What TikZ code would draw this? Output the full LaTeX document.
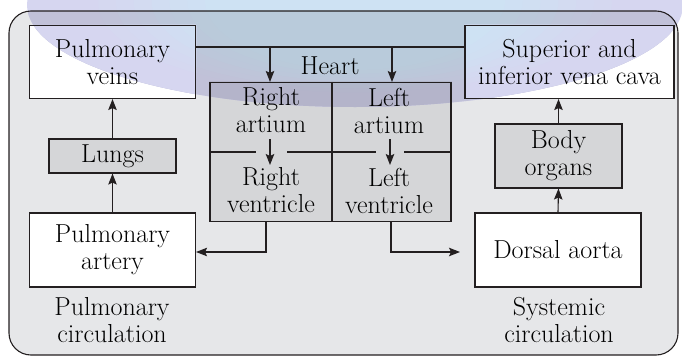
\documentclass[tikz,border=0pt]{standalone}
\usetikzlibrary{arrows.meta}
\definecolor{bg}{RGB}{230,231,233}
\definecolor{boxgray}{RGB}{213,214,216}
\definecolor{ink}{RGB}{35,31,32}
\definecolor{ellin}{RGB}{206,226,243}
\definecolor{ellout}{RGB}{214,214,240}
\pgfdeclarelayer{back}
\pgfsetlayers{back,main}
\newcommand\drawveil[1]{%
  \foreach \t/\p in {0/100,0.3/100,0.4/86,0.5/71,0.6/57,0.7/43,0.8/29,0.9/14,1/0}{%
    \fill[fill=ellout!\p!ellin!#1!black] (355,{5-5*\t}) ellipse [x radius={328-178*\t}, y radius={102-32*\t}];
  }}
\begin{document}
\begin{tikzpicture}[x=1pt,y=-1pt,
  line width=1.1pt,
  font=\fontsize{26}{27}\selectfont,
  wbox/.style={draw=ink, text=black, align=center, inner sep=0pt},
  lbl/.style={text=black, align=center, inner sep=0pt},
  arr/.style={draw=ink, -{Stealth[length=11pt,width=8.5pt,inset=2pt]}}]
\useasboundingbox (0,0) rectangle (682,359);
% outer panel
\draw[draw=ink, rounded corners=22pt] (9,11) rectangle (678,355);
% boxes
\node[wbox, minimum width=166pt, minimum height=73pt] (veins) at (112.5,62) {Pulmonary\\veins};
\node[wbox, minimum width=209pt, minimum height=73pt] (cava) at (569.5,62) {Superior and\\inferior vena cava};
\node[wbox, minimum width=127pt, minimum height=34pt] (lungs) at (112.5,156) {Lungs};
\node[wbox, minimum width=127pt, minimum height=64pt] (organs) at (558.5,156) {Body\\organs};
\node[wbox, minimum width=166pt, minimum height=74pt] (artery) at (112.5,250) {Pulmonary\\artery};
\node[wbox, minimum width=166pt, minimum height=74pt] (aorta) at (558,250) {Dorsal aorta};
% heart
\node[wbox, minimum width=241pt, minimum height=139pt] (heart) at (330.5,152) {};
\node[lbl] (heartlbl) at (330,65.5) {Heart};
\node[lbl] (ra) at (271,110.5) {Right\\artium};
\node[lbl] (la) at (389,110.5) {Left\\artium};
\node[lbl] (rv) at (271,190.5) {Right\\ventricle};
\node[lbl] (lv) at (389,190.5) {Left\\ventricle};
\coordinate (mid) at (332,152);
\coordinate (ax1) at (270,0);
\coordinate (ax2) at (390,0);
\coordinate (topline) at (0,47);
\coordinate (botline) at (0,252);
\draw[ink] (mid |- heart.north) -- (mid |- heart.south);
\draw[ink] (heart.west |- mid) -- (256,152) (287,152) -- (376,152) (404,152) -- (heart.east |- mid);
\draw[arr] (ax1 |- 0,139) -- (ax1 |- 0,165);
\draw[arr] (ax2 |- 0,139) -- (ax2 |- 0,165);
% top connections
\draw[ink] (veins.east |- topline) -- (cava.west |- topline);
\draw[arr] (ax1 |- topline) -- (ax1 |- heart.north);
\draw[arr] (392,47) -- (392,82);
% bottom connections
\draw[arr] (266,221) -- (266,252) -- (artery.east |- botline);
\draw[arr] (391,221) -- (391,252) -- (460,252);
% vertical arrows
\draw[arr] (lungs.north) -- (veins.south);
\draw[arr] (artery.north) -- (lungs.south);
\draw[arr] (organs.north) -- (organs.north |- cava.south);
\draw[arr] (aorta.north) -- (organs.south);
% labels
\node[lbl] (pc) at (112,320) {Pulmonary\\circulation};
\node[lbl] (sc) at (559,320) {Systemic\\circulation};
% fills and tinted decorative ellipse behind
\begin{pgfonlayer}{back}
\fill[bg, rounded corners=22pt] (9,11) rectangle (678,355);
\foreach \n in {veins,cava,artery,aorta}{\fill[white] (\n.south west) rectangle (\n.north east);}
\foreach \n in {lungs,organs,heart}{\fill[boxgray] (\n.south west) rectangle (\n.north east);}
\drawveil{100}
\begin{scope}
\clip[rounded corners=22pt] (9,11) rectangle (678,355);
\drawveil{90}
\end{scope}
\begin{scope}
\clip (veins.south west) rectangle (veins.north east) (cava.south west) rectangle (cava.north east);
\drawveil{100}
\end{scope}
\begin{scope}
\clip (heart.south west) rectangle (heart.north east);
\drawveil{84}
\end{scope}
\end{pgfonlayer}
\end{tikzpicture}
\end{document}
